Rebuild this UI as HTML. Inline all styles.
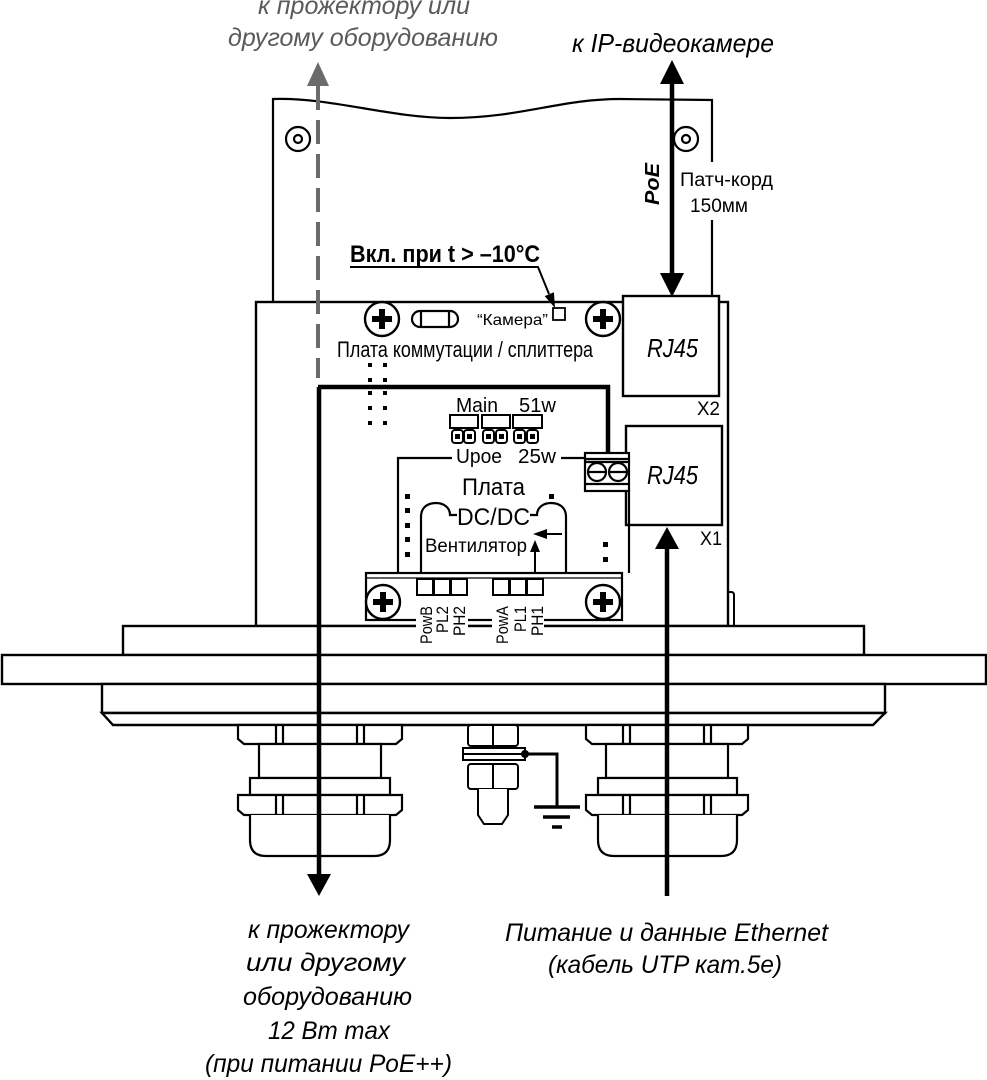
<!DOCTYPE html>
<html><head><meta charset="utf-8"><style>
html,body{margin:0;padding:0;background:#fff;}
svg{display:block;}
text{font-family:"Liberation Sans","DejaVu Sans",sans-serif;}
</style></head><body>
<svg width="987" height="1080" viewBox="0 0 987 1080" xmlns="http://www.w3.org/2000/svg">
<rect width="987" height="1080" fill="#fff"/>

<!-- top gray labels -->
<g fill="#5a5a5a" font-style="italic" font-size="25">
<text x="258" y="14" textLength="212" lengthAdjust="spacingAndGlyphs">к прожектору или</text>
<text x="228" y="46" textLength="270" lengthAdjust="spacingAndGlyphs">другому оборудованию</text>
</g>
<text x="572" y="52" font-style="italic" font-size="26" textLength="202" lengthAdjust="spacingAndGlyphs">к IP-видеокамере</text>

<!-- upper plate -->
<g fill="none" stroke="#000" stroke-width="2.2">
<path d="M273,302 V99 C330,97 390,118 450,118 C520,118 560,99 620,99 L712,100 V162 M712,220 V296"/>
<circle cx="298" cy="139" r="12"/><circle cx="298" cy="139" r="4"/>
<circle cx="686" cy="139" r="12"/><circle cx="686" cy="139" r="4"/>
</g>

<!-- main box -->
<rect x="256" y="302" width="472" height="324" fill="#fff" stroke="#000" stroke-width="2.4"/>
<path d="M728,592 H731 Q734,592 734,595 V626" fill="none" stroke="#000" stroke-width="2"/>

<!-- RJ45 boxes -->
<g fill="#fff" stroke="#000" stroke-width="2.4">
<rect x="623" y="296" width="96" height="100"/>
<rect x="626" y="426" width="96" height="99"/>
</g>
<g font-style="italic" font-size="26">
<text x="647" y="357" textLength="51" lengthAdjust="spacingAndGlyphs">RJ45</text>
<text x="647" y="484" textLength="51" lengthAdjust="spacingAndGlyphs">RJ45</text>
</g>
<g font-size="19">
<text x="697" y="415" textLength="23" lengthAdjust="spacingAndGlyphs">X2</text>
<text x="700" y="545" textLength="22" lengthAdjust="spacingAndGlyphs">X1</text>
</g>

<!-- screws top of board -->
<g>
<circle cx="382" cy="319" r="17" fill="#fff" stroke="#000" stroke-width="2.4"/>
<rect x="372" y="316" width="20" height="6"/><rect x="379" y="309" width="6" height="20"/>
<circle cx="603" cy="319" r="17" fill="#fff" stroke="#000" stroke-width="2.4"/>
<rect x="593" y="316" width="20" height="6"/><rect x="600" y="309" width="6" height="20"/>
</g>
<!-- fuse -->
<g fill="none" stroke="#000" stroke-width="2.2">
<rect x="412" y="311" width="46" height="16" rx="8"/>
<line x1="421" y1="312" x2="421" y2="326"/><line x1="449" y1="312" x2="449" y2="326"/>
</g>
<text x="477" y="325" font-size="16" textLength="71" lengthAdjust="spacingAndGlyphs">“Камера”</text>
<rect x="553" y="308" width="12" height="12" fill="#fff" stroke="#000" stroke-width="1.8"/>
<text x="337" y="357" font-size="22" textLength="256" lengthAdjust="spacingAndGlyphs">Плата коммутации / сплиттера</text>

<!-- temperature label -->
<text x="350" y="262" font-size="24" font-weight="bold" textLength="190" lengthAdjust="spacingAndGlyphs">Вкл. при t &gt; –10°C</text>
<polyline points="350,267 538,267 549,294" fill="none" stroke="#000" stroke-width="2"/>
<polygon points="555,308 544.7,296.1 553.9,292.3" fill="#000"/>

<!-- dot grid -->
<g fill="#000">
<rect x="368" y="363" width="4" height="4"/><rect x="383" y="363" width="4" height="4"/>
<rect x="368" y="378" width="4" height="4"/><rect x="383" y="378" width="4" height="4"/>
<rect x="368" y="391" width="4" height="4"/><rect x="383" y="391" width="4" height="4"/>
<rect x="368" y="406" width="4" height="4"/><rect x="383" y="406" width="4" height="4"/>
<rect x="368" y="421" width="4" height="4"/><rect x="383" y="421" width="4" height="4"/>
</g>

<!-- Main / 51w / jumpers -->
<g font-size="20">
<text x="456" y="412" textLength="42" lengthAdjust="spacingAndGlyphs">Main</text>
<text x="519" y="412" textLength="37" lengthAdjust="spacingAndGlyphs">51w</text>
<text x="456" y="463" textLength="46" lengthAdjust="spacingAndGlyphs">Upoe</text>
<text x="518" y="463" textLength="38" lengthAdjust="spacingAndGlyphs">25w</text>
</g>
<g fill="#fff" stroke="#000" stroke-width="2">
<rect x="450" y="415" width="28" height="13"/>
<rect x="482" y="415" width="28" height="13"/>
<rect x="513" y="415" width="29" height="13"/>
<rect x="452" y="430" width="11" height="13" rx="3"/><rect x="464" y="430" width="11" height="13" rx="3"/>
<rect x="483" y="430" width="11" height="13" rx="3"/><rect x="496" y="430" width="11" height="13" rx="3"/>
<rect x="514" y="430" width="11" height="13" rx="3"/><rect x="527" y="430" width="11" height="13" rx="3"/>
</g>
<g fill="#000">
<rect x="455" y="434" width="5" height="5"/><rect x="467" y="434" width="5" height="5"/>
<rect x="486" y="434" width="5" height="5"/><rect x="499" y="434" width="5" height="5"/>
<rect x="517" y="434" width="5" height="5"/><rect x="530" y="434" width="5" height="5"/>
</g>

<!-- DC/DC board -->
<g fill="none" stroke="#000" stroke-width="2.2">
<polyline points="452,458 398,458 398,573"/>
<line x1="561" y1="458" x2="585" y2="458"/>
<line x1="629" y1="490" x2="629" y2="573"/>
<path d="M457,515 H450 C450,507 443,503 436,503 C428,503 421,507 421,517 V573"/>
<path d="M530,515 H537 C537,507 544,503 551,503 C559,503 566,507 566,517 V573"/>
</g>
<!-- terminal block -->
<g fill="#fff" stroke="#000" stroke-width="2.2">
<rect x="585" y="453" width="44" height="38"/>
<line x1="585" y1="459" x2="629" y2="459"/><line x1="585" y1="462" x2="629" y2="462"/>
<line x1="585" y1="484" x2="629" y2="484"/>
<circle cx="597" cy="472" r="9"/><circle cx="618" cy="472" r="9"/>
<line x1="588" y1="472" x2="606" y2="472"/><line x1="609" y1="472" x2="627" y2="472"/>
</g>
<g font-size="24">
<text x="462" y="495" textLength="63" lengthAdjust="spacingAndGlyphs">Плата</text>
<text x="457" y="525" textLength="73" lengthAdjust="spacingAndGlyphs">DC/DC</text>
</g>
<text x="425" y="552" font-size="19" textLength="102" lengthAdjust="spacingAndGlyphs">Вентилятор</text>
<g stroke="#000" stroke-width="2" fill="none">
<line x1="562" y1="534" x2="545" y2="534"/>
<line x1="535" y1="572" x2="535" y2="550"/>
</g>
<polygon points="533,534 547,529 547,539" fill="#000"/>
<polygon points="535,540 530,552 540,552" fill="#000"/>
<g fill="#000">
<rect x="405" y="494" width="5" height="5"/><rect x="405" y="508" width="5" height="5"/>
<rect x="405" y="523" width="5" height="5"/><rect x="405" y="537" width="5" height="5"/>
<rect x="405" y="552" width="5" height="5"/>
<rect x="549" y="494" width="5" height="5"/>
<rect x="603" y="542" width="5" height="5"/><rect x="603" y="557" width="5" height="5"/>
</g>

<!-- bottom strip -->
<rect x="366" y="573" width="256" height="47" fill="#fff" stroke="#000" stroke-width="2.2"/>
<line x1="366" y1="578" x2="622" y2="578" stroke="#000" stroke-width="1.2"/>
<g fill="#fff" stroke="#000" stroke-width="2">
<rect x="417" y="579" width="16" height="16"/><rect x="434" y="579" width="16" height="16"/><rect x="451" y="579" width="16" height="16"/>
<rect x="493" y="579" width="16" height="16"/><rect x="510" y="579" width="16" height="16"/><rect x="527" y="579" width="16" height="16"/>
</g>
<g>
<circle cx="383" cy="602" r="17" fill="#fff" stroke="#000" stroke-width="2.4"/>
<rect x="373" y="599" width="20" height="6"/><rect x="380" y="592" width="6" height="20"/>
<circle cx="603" cy="602" r="17" fill="#fff" stroke="#000" stroke-width="2.4"/>
<rect x="593" y="599" width="20" height="6"/><rect x="600" y="592" width="6" height="20"/>
</g>

<!-- flange layers -->
<g fill="#fff" stroke="#000" stroke-width="2.4">
<rect x="123" y="626" width="741" height="29"/>
<rect x="2" y="655" width="984" height="29"/>
<rect x="102" y="684" width="783" height="29"/>
<polygon points="102,713 885,713 873,725 113,725"/>
</g>

<!-- connector labels -->
<rect x="416" y="603" width="52" height="46" fill="#fff"/>
<rect x="492" y="603" width="52" height="40" fill="#fff"/>
<g font-size="17" text-anchor="end">
<text transform="translate(432,606) rotate(-90)" textLength="38" lengthAdjust="spacingAndGlyphs">PowB</text>
<text transform="translate(448,606) rotate(-90)" textLength="27" lengthAdjust="spacingAndGlyphs">PL2</text>
<text transform="translate(465,606) rotate(-90)" textLength="30" lengthAdjust="spacingAndGlyphs">PH2</text>
<text transform="translate(508,606) rotate(-90)" textLength="38" lengthAdjust="spacingAndGlyphs">PowA</text>
<text transform="translate(526,606) rotate(-90)" textLength="26" lengthAdjust="spacingAndGlyphs">PL1</text>
<text transform="translate(543,606) rotate(-90)" textLength="30" lengthAdjust="spacingAndGlyphs">PH1</text>
</g>
<g stroke="#000" stroke-width="2">
<line x1="468" y1="620" x2="492" y2="620"/><line x1="468" y1="626" x2="492" y2="626"/>
</g>

<!-- left gland -->
<g fill="#fff" stroke="#000" stroke-width="2.2">
<path d="M238,725 H402 V739 L396,744 H244 L238,739 Z"/>
<rect x="259" y="744" width="122" height="34"/>
<rect x="250" y="778" width="140" height="17"/>
<path d="M238,795 H402 V810 L396,815 H244 L238,810 Z"/>
<path d="M250,815 V840 Q250,856 266,856 H374 Q390,856 390,840 V815"/>
<path d="M276,725 V743 M283,725 V743 M357,725 V743 M364,725 V743 M276,795 V814 M283,795 V814 M357,795 V814 M364,795 V814" fill="none"/>
</g>
<!-- right gland -->
<g fill="#fff" stroke="#000" stroke-width="2.2">
<path d="M586,725 H748 V739 L742,744 H592 L586,739 Z"/>
<rect x="606" y="744" width="122" height="34"/>
<rect x="598" y="778" width="139" height="17"/>
<path d="M586,795 H748 V810 L742,815 H592 L586,810 Z"/>
<path d="M598,815 V840 Q598,856 614,856 H721 Q737,856 737,840 V815"/>
<path d="M623,725 V743 M630,725 V743 M704,725 V743 M711,725 V743 M623,795 V814 M630,795 V814 M704,795 V814 M711,795 V814" fill="none"/>
</g>

<!-- ground stud -->
<g fill="#fff" stroke="#000" stroke-width="2">
<rect x="468" y="725" width="50" height="21" rx="3"/>
<line x1="493" y1="725" x2="493" y2="746"/>
<rect x="463" y="748" width="62" height="12"/>
<line x1="463" y1="754" x2="525" y2="754"/>
<rect x="468" y="764" width="50" height="25" rx="3"/>
<line x1="493" y1="764" x2="493" y2="789"/>
<path d="M478,789 V815 L484,824 H502 L508,815 V789"/>
</g>
<circle cx="525" cy="754" r="4" fill="#000"/>
<polyline points="525,754 557,754 557,807" fill="none" stroke="#000" stroke-width="3"/>
<g stroke="#000" stroke-width="3.5">
<line x1="534" y1="807" x2="580" y2="807"/>
<line x1="543" y1="817" x2="570" y2="817"/>
<line x1="552" y1="827" x2="562" y2="827"/>
</g>

<!-- gray dashed arrow -->
<line x1="318" y1="86" x2="318" y2="378" stroke="#6b6b6b" stroke-width="4" stroke-dasharray="24 10"/>
<polygon points="318,62 307,86 329,86" fill="#6b6b6b"/>

<!-- black arrows -->
<g stroke="#000" stroke-width="4.5" fill="none">
<line x1="672" y1="82" x2="672" y2="276"/>
<polyline points="318,387 608,387 608,454"/>
<line x1="319" y1="387" x2="319" y2="876"/>
<line x1="667" y1="546" x2="667" y2="896"/>
</g>
<g fill="#000">
<polygon points="672,60 660,84 684,84"/>
<polygon points="672,297 660,273 684,273"/>
<polygon points="319,896 307,874 331,874"/>
<polygon points="667,527 655,549 679,549"/>
</g>

<!-- PoE / patch cord -->
<text transform="translate(659,184) rotate(-90)" text-anchor="middle" font-size="20" font-weight="bold" font-style="italic" textLength="42" lengthAdjust="spacingAndGlyphs">PoE</text>
<g font-size="19">
<text x="680" y="186" textLength="93" lengthAdjust="spacingAndGlyphs">Патч-корд</text>
<text x="690" y="212" textLength="58" lengthAdjust="spacingAndGlyphs">150мм</text>
</g>

<!-- bottom labels -->
<g font-style="italic" font-size="25">
<text x="248" y="938" textLength="161" lengthAdjust="spacingAndGlyphs">к прожектору</text>
<text x="246" y="971" textLength="159" lengthAdjust="spacingAndGlyphs">или другому</text>
<text x="243" y="1005" textLength="169" lengthAdjust="spacingAndGlyphs">оборудованию</text>
<text x="268" y="1039" textLength="122" lengthAdjust="spacingAndGlyphs">12 Вт max</text>
<text x="205" y="1072" textLength="247" lengthAdjust="spacingAndGlyphs">(при питании PoE++)</text>
<text x="505" y="941" textLength="323" lengthAdjust="spacingAndGlyphs">Питание и данные Ethernet</text>
<text x="548" y="973" textLength="234" lengthAdjust="spacingAndGlyphs">(кабель UTP кат.5е)</text>
</g>
</svg>
</body></html>
